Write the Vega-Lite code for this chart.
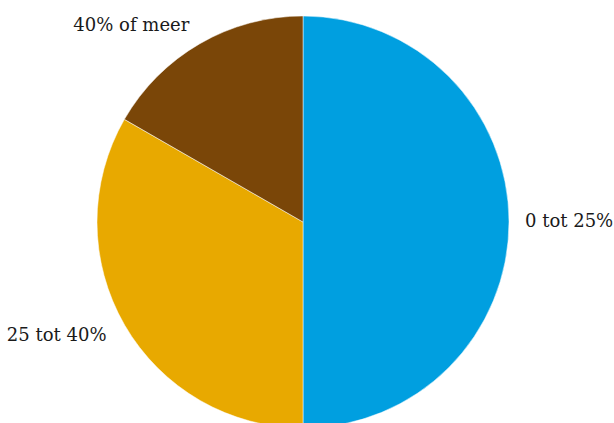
{
  "$schema": "https://vega.github.io/schema/vega-lite/v6.json",
  "width": 614,
  "height": 423,
  "autosize": {"type": "fit", "contains": "padding"},
  "padding": {"left": 0, "right": 4, "top": 21, "bottom": 0},
  "background": "white",
  "view": {"stroke": null},
  "data": {"values": [
    {"categorie": "0 tot 25%", "aandeel": 50},
    {"categorie": "25 tot 40%", "aandeel": 33.3},
    {"categorie": "40% of meer", "aandeel": 16.7}
  ]},
  "encoding": {
    "theta": {"field": "aandeel", "type": "quantitative", "stack": true},
    "order": {"field": "categorie", "type": "nominal", "sort": "ascending"}
  },
  "layer": [
    {
      "mark": {"type": "arc", "outerRadius": 206, "stroke": "white", "strokeWidth": 0.5},
      "encoding": {
        "color": {"field": "categorie", "type": "nominal", "legend": null,
          "scale": {"domain": ["0 tot 25%", "25 tot 40%", "40% of meer"], "range": ["#009FE0", "#E8A900", "#7A4608"]}}
      }
    },
    {
      "mark": {"type": "text", "radius": 222, "align": "left", "baseline": "middle", "font": "DejaVu Serif", "fontSize": 18, "color": "#1a1a1a"},
      "encoding": {
        "text": {"condition": {"test": "datum.categorie === '0 tot 25%'", "field": "categorie"}, "value": ""}
      }
    },
    {
      "mark": {"type": "text", "radius": 227, "align": "right", "baseline": "middle", "font": "DejaVu Serif", "fontSize": 18, "color": "#1a1a1a"},
      "encoding": {
        "text": {"condition": {"test": "datum.categorie !== '0 tot 25%'", "field": "categorie"}, "value": ""}
      }
    }
  ]
}
